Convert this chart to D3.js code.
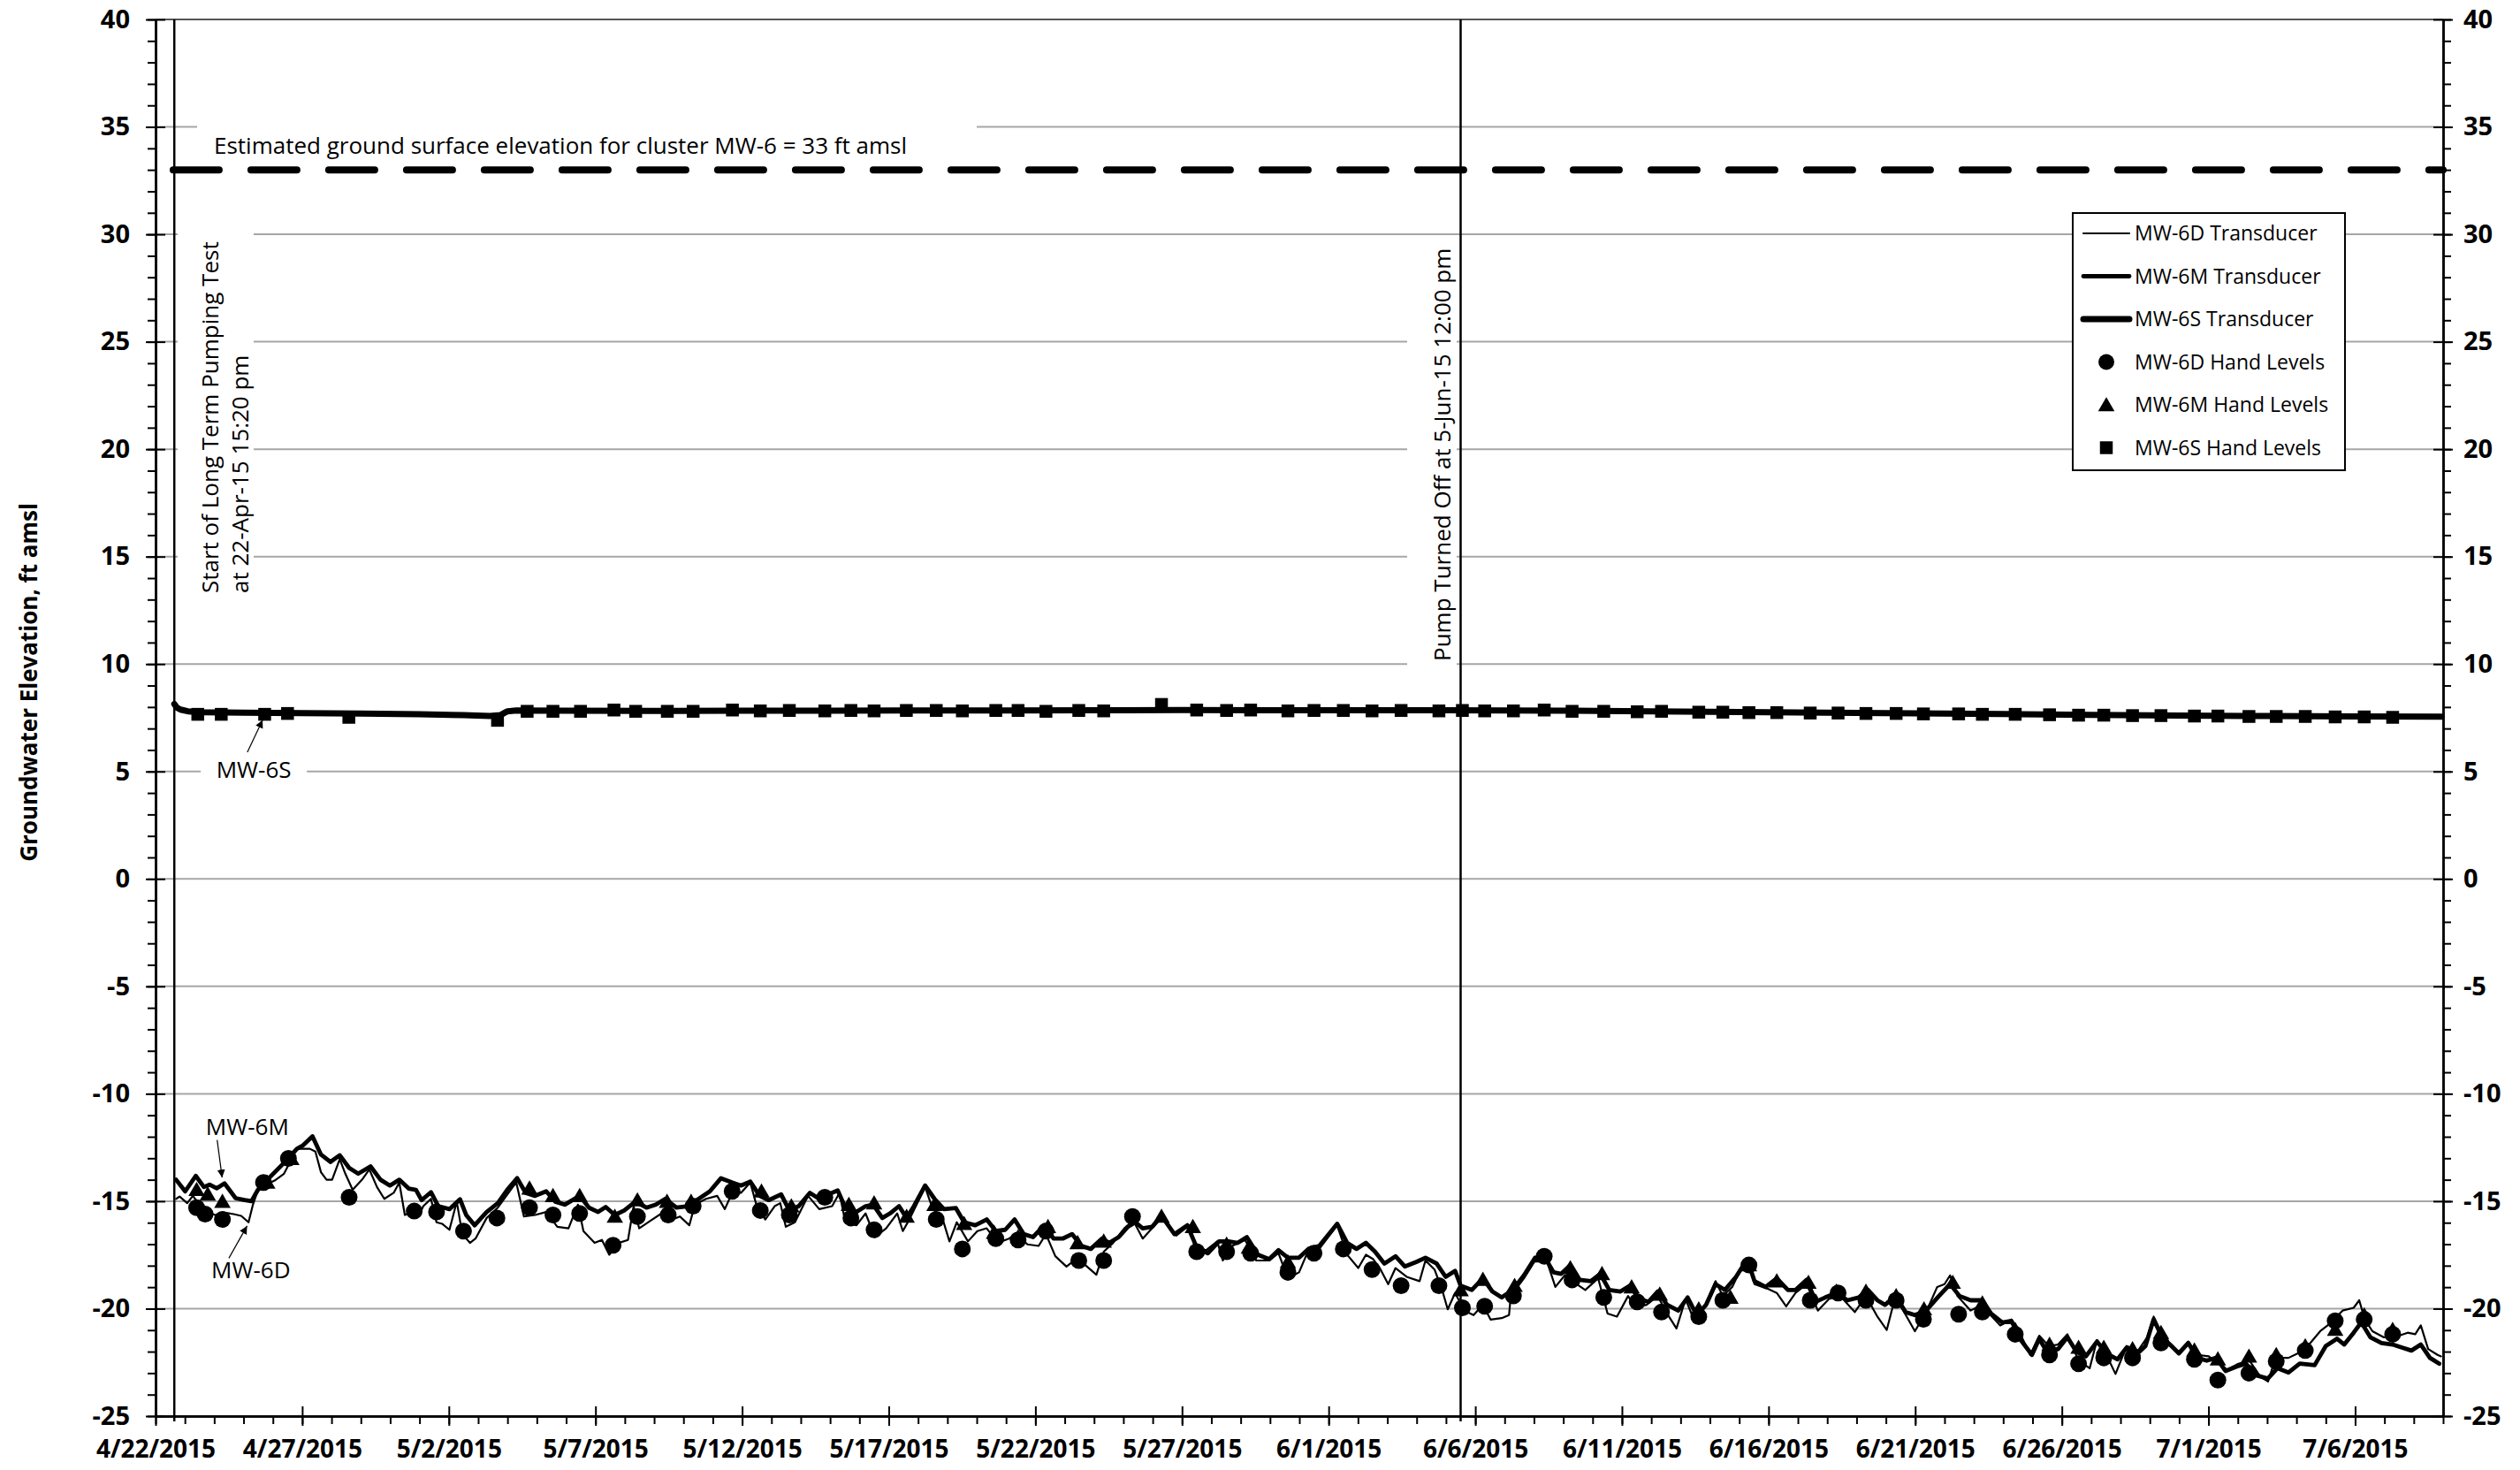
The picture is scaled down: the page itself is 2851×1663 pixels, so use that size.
<!DOCTYPE html>
<html>
<head>
<meta charset="utf-8">
<script src="https://cdnjs.cloudflare.com/ajax/libs/d3/7.8.5/d3.min.js"></script>
<style>
body{margin:0;background:#fff;}
svg{display:block;}
text{font-family:"Open Sans",sans-serif;}
</style>
</head>
<body>
<svg id="Viz"></svg>
<script>
// tick labels
let dateTicks = ["4/22/2015","4/27/2015","5/2/2015","5/7/2015","5/12/2015","5/17/2015","5/22/2015","5/27/2015","6/1/2015","6/6/2015","6/11/2015","6/16/2015","6/21/2015","6/26/2015","7/1/2015","7/6/2015"];
let elevTicks = [-25,-20,-15,-10,-5,0,5,10,15,20,25,30,35,40];

// series, [days after 4/22/2015 00:00, ft amsl]
let mw6dTrans = [[0.70,-14.89],[0.82,-14.78],[1.08,-15.09],[1.27,-14.75],[1.65,-15.43],[2.03,-15.64],[2.41,-15.54],[2.66,-15.6],[2.92,-15.68],[3.17,-15.98],[3.32,-15.16],[3.49,-14.47],[3.81,-14.2],[4.06,-14.04],[4.38,-13.72],[4.82,-12.56],[5.26,-12.56],[5.45,-12.69],[5.64,-13.65],[5.83,-14.0],[6.02,-14.0],[6.28,-13.04],[6.47,-13.72],[6.72,-14.47],[7.04,-14.0],[7.29,-13.52],[7.55,-14.34],[7.8,-14.89],[8.12,-14.61],[8.31,-14.13],[8.5,-15.64],[8.75,-15.5],[9.01,-15.57],[9.13,-15.23],[9.39,-14.89],[9.58,-15.98],[9.77,-16.05],[10.02,-16.33],[10.27,-15.02],[10.46,-16.53],[10.72,-16.94],[10.91,-16.74],[11.29,-15.78],[11.67,-15.3],[12.18,-14.34],[12.3,-14.13],[12.56,-15.71],[12.94,-15.64],[13.32,-15.5],[13.7,-16.19],[14.08,-16.26],[14.4,-15.16],[14.59,-16.39],[14.97,-16.94],[15.22,-16.8],[15.47,-17.49],[15.79,-16.94],[16.11,-16.8],[16.3,-15.23],[16.49,-16.26],[16.87,-15.91],[17.25,-15.57],[17.5,-15.91],[17.88,-15.71],[18.2,-16.12],[18.39,-15.16],[18.77,-14.89],[19.15,-14.75],[19.41,-15.37],[19.66,-14.61],
[19.96,-14.61],[20.28,-14.13],[20.47,-15.09],[20.79,-15.85],[21.11,-15.23],[21.3,-15.09],[21.49,-16.19],[21.8,-15.98],[22.25,-14.75],[22.63,-15.37],[23.07,-15.23],[23.32,-14.61],[23.52,-15.98],[23.9,-16.12],[24.21,-15.57],[24.53,-16.67],[24.91,-16.26],[25.29,-15.57],[25.48,-16.39],[25.73,-15.78],[26.24,-14.34],[26.5,-15.37],[26.81,-15.71],[27.07,-16.87],[27.32,-15.98],[27.7,-16.87],[28.02,-16.39],[28.34,-16.26],[28.72,-16.94],[29.1,-16.74],[29.35,-16.53],[29.73,-17.01],[30.11,-17.08],[30.36,-16.53],[30.68,-17.56],[31.06,-18.04],[31.44,-17.63],[31.7,-17.97],[32.08,-18.42],[32.33,-17.35],[32.65,-16.94],[33.03,-16.26],[33.34,-15.91],[33.66,-16.74],[33.98,-16.26],[34.3,-15.78],[34.8,-16.6],[35.25,-16.12],[35.44,-17.15],[35.82,-17.28],[36.2,-16.87],[36.39,-17.76],[36.71,-17.08],[37.15,-16.8],[37.53,-17.76],[37.97,-17.76],[38.29,-17.42],[38.61,-18.59],[38.99,-18.31],[39.31,-17.28],
[39.68,-17.22],[40.29,-16.12],[40.63,-17.49],[41.01,-18.11],[41.27,-17.49],[41.52,-17.7],[41.77,-18.18],[42.03,-18.86],[42.28,-18.11],[42.66,-18.52],[43.1,-18.72],[43.3,-17.76],[43.61,-18.18],[43.87,-19.13],[44.06,-20.03],[44.31,-19.27],[44.63,-20.09],[44.94,-20.3],[45.26,-19.82],[45.52,-20.51],[45.9,-20.44],[46.15,-20.3],[46.21,-19.41],[46.66,-18.59],[47.04,-17.76],[47.42,-17.7],[47.73,-18.99],[48.05,-18.45],[48.31,-18.72],[48.75,-19.13],[49.19,-18.59],[49.51,-20.23],[49.83,-20.37],[50.21,-19.41],[50.46,-19.96],[50.84,-19.82],[51.22,-19.41],[51.54,-20.23],[51.86,-20.92],[52.17,-19.55],[52.49,-20.64],[52.81,-19.96],[53.19,-18.72],[53.44,-19.41],[53.76,-18.99],[54.14,-17.9],[54.33,-17.9],[54.52,-18.86],[54.96,-19.07],[55.28,-19.27],[55.6,-19.89],[55.92,-19.27],[56.3,-18.86],[56.68,-20.09],[57.06,-19.55],[57.44,-19.41],[57.94,-20.16],[58.32,-19.41],[58.71,-20.37],
[59.03,-20.99],[59.29,-19.61],[59.54,-19.96],[59.99,-21.05],[60.37,-20.16],[60.75,-18.99],[61.0,-18.86],[61.19,-18.45],[61.44,-19.41],[61.89,-20.09],[62.27,-19.82],[62.52,-20.23],[62.9,-20.78],[63.28,-20.5],[63.54,-21.05],[63.92,-22.15],[64.23,-21.26],[64.55,-21.74],[64.87,-21.67],[65.19,-21.19],[65.57,-22.42],[65.95,-22.77],[66.2,-21.46],[66.52,-22.15],[66.83,-23.04],[67.21,-21.74],[67.6,-21.95],[67.91,-21.33],[68.13,-20.37],[68.36,-21.05],[68.61,-21.67],[68.99,-22.01],[69.31,-21.53],[69.62,-22.15],[70.01,-22.22],[70.26,-22.49],[70.64,-22.84],[71.02,-22.56],[71.4,-22.42],[71.78,-23.18],[72.03,-23.39],[72.29,-22.29],[72.73,-22.29],[73.05,-22.08],[73.43,-21.67],[73.81,-21.05],[74.19,-20.64],[74.57,-20.09],[74.95,-19.96],[75.14,-19.61],[75.33,-20.5],[75.59,-21.05],[75.97,-21.33],[76.35,-21.33],[76.79,-21.12],[77.05,-21.19],[77.24,-20.78],[77.49,-21.88],[77.81,-22.15],[77.93,-22.22]];

let mw6mTrans = [[0.70,-14.0],[1.01,-14.54],[1.37,-13.82],[1.65,-14.34],[1.84,-14.23],[2.09,-14.4],[2.35,-14.17],[2.73,-14.86],[3.04,-14.95],[3.27,-15.0],[3.49,-14.47],[3.81,-14.0],[4.31,-13.31],[4.82,-12.56],[5.01,-12.42],[5.35,-11.98],[5.64,-12.83],[5.96,-13.17],[6.28,-12.86],[6.60,-13.45],[6.91,-13.72],[7.33,-13.38],[7.67,-14.0],[7.99,-14.27],[8.31,-14.0],[8.63,-14.41],[8.88,-14.47],[9.07,-14.95],[9.39,-14.58],[9.64,-15.23],[10.02,-15.37],[10.38,-14.91],[10.59,-15.64],[10.88,-16.12],[11.29,-15.5],[11.67,-15.09],[11.99,-14.47],[12.33,-13.93],[12.62,-14.61],[12.94,-14.75],[13.32,-14.54],[13.63,-15.02],[13.95,-15.16],[14.46,-14.75],[14.78,-15.3],[15.09,-15.5],[15.35,-15.27],[15.66,-15.64],[15.98,-15.43],[16.36,-15.02],[16.74,-15.3],[17.06,-15.16],[17.38,-14.89],[17.76,-15.3],[18.14,-15.23],[18.52,-14.89],[18.9,-14.54],[19.28,-13.93],[19.66,-14.13],
[19.96,-14.27],[20.28,-14.09],[20.6,-14.75],[20.91,-14.95],[21.33,-14.68],[21.61,-15.43],[21.93,-15.23],[22.31,-14.61],[22.63,-14.89],[22.94,-14.68],[23.26,-14.5],[23.52,-15.3],[23.9,-15.5],[24.21,-15.23],[24.47,-15.16],[24.78,-15.78],[25.04,-15.57],[25.35,-15.23],[25.61,-15.78],[25.86,-15.23],[26.24,-14.27],[26.56,-14.89],[26.88,-15.37],[27.29,-15.32],[27.57,-15.98],[27.95,-16.12],[28.34,-15.85],[28.65,-16.39],[28.97,-16.33],[29.29,-15.85],[29.6,-16.53],[29.92,-16.67],[30.3,-16.12],[30.62,-16.74],[30.93,-16.74],[31.25,-16.53],[31.57,-17.08],[31.89,-17.22],[32.27,-16.74],[32.52,-16.94],[32.84,-16.67],[33.15,-16.19],[33.41,-15.98],[33.66,-16.26],[33.98,-16.19],[34.3,-15.68],[34.74,-16.53],[35.18,-16.12],[35.5,-17.15],[35.88,-17.42],[36.26,-16.87],[36.58,-16.87],[36.9,-16.94],[37.21,-16.67],[37.59,-17.49],[37.97,-17.7],[38.29,-17.28],[38.61,-17.63],[38.99,-17.63],[39.31,-17.22],
[39.68,-17.08],[40.29,-16.05],[40.63,-16.94],[40.95,-17.22],[41.27,-16.94],[41.58,-17.35],[41.9,-17.9],[42.28,-17.56],[42.6,-18.04],[42.98,-17.83],[43.3,-17.63],[43.68,-17.9],[43.99,-18.52],[44.31,-18.24],[44.5,-18.93],[44.88,-19.13],[45.26,-18.59],[45.58,-19.2],[45.9,-19.48],[46.28,-19.13],[46.66,-18.45],[47.04,-17.63],[47.35,-17.56],[47.67,-18.31],[47.93,-18.38],[48.24,-17.97],[48.56,-18.66],[48.94,-18.72],[49.26,-18.38],[49.57,-19.13],[49.95,-19.2],[50.27,-18.93],[50.59,-19.55],[50.91,-19.68],[51.22,-19.2],[51.54,-19.82],[51.92,-20.09],[52.24,-19.48],[52.55,-20.3],[52.87,-19.82],[53.19,-18.86],[53.51,-19.13],[53.89,-18.52],[54.27,-17.7],[54.52,-18.72],[54.9,-18.99],[55.28,-18.59],[55.66,-19.13],[55.92,-19.13],[56.3,-18.66],[56.61,-19.68],[56.93,-19.48],[57.31,-19.27],[57.69,-19.61],[58.07,-19.48],[58.39,-19.13],[58.71,-19.61],
[58.97,-19.82],[59.33,-19.41],[59.67,-20.16],[59.99,-20.3],[60.37,-20.09],[60.81,-19.41],[61.19,-18.86],[61.51,-19.41],[61.89,-19.61],[62.27,-19.61],[62.59,-20.23],[62.97,-20.64],[63.28,-20.57],[63.6,-21.46],[63.98,-22.15],[64.23,-21.4],[64.49,-22.01],[64.87,-21.88],[65.19,-21.33],[65.5,-22.01],[65.82,-22.22],[66.2,-21.53],[66.52,-22.08],[66.9,-22.36],[67.21,-21.81],[67.53,-22.15],[67.85,-21.74],[68.13,-20.5],[68.42,-21.33],[68.74,-21.74],[68.99,-22.08],[69.31,-21.6],[69.62,-22.29],[69.94,-22.42],[70.26,-22.29],[70.58,-22.9],[70.96,-22.7],[71.27,-22.56],[71.65,-23.11],[72.03,-23.25],[72.35,-22.77],[72.73,-22.97],[73.11,-22.56],[73.62,-22.63],[74.0,-21.74],[74.38,-21.4],[74.63,-21.67],[74.95,-21.12],[75.21,-20.64],[75.52,-21.33],[75.9,-21.6],[76.28,-21.67],[76.6,-21.81],[76.92,-21.95],[77.24,-21.67],[77.55,-22.29],[77.87,-22.56]];

let mw6sTrans = [[0.64,8.14],[0.72,7.98],[0.85,7.88],[1.1,7.8],[1.6,7.76],[3,7.74],[5,7.72],[7,7.7],[9,7.66],[10.5,7.62],[11.4,7.58],[11.75,7.62],[12.0,7.8],[12.3,7.84],[14,7.83],[17,7.82],[20,7.83],[23,7.83],[26,7.84],[29,7.84],[32,7.85],[35,7.86],[38,7.85],[41,7.85],[44,7.85],[46,7.84],[48,7.83],[51,7.8],[54,7.77],[57,7.74],[60,7.71],[63,7.67],[66,7.63],[69,7.6],[72,7.58],[75,7.56],[77.95,7.55]];

let mw6dHand = [[1.40,-15.3],[1.69,-15.6],[2.28,-15.85],[3.68,-14.13],[4.53,-13.01],[6.60,-14.82],[8.82,-15.46],[9.58,-15.5],[10.5,-16.39],[11.64,-15.78],[12.75,-15.3],[13.55,-15.64],[14.46,-15.57],[15.6,-17.05],[16.43,-15.71],[17.48,-15.64],[18.33,-15.23],[19.66,-14.54],[20.62,-15.43],[21.61,-15.64],[22.82,-14.82],[23.71,-15.78],[24.5,-16.33],[26.62,-15.85],[27.51,-17.22],[28.65,-16.74],[29.41,-16.8],[30.36,-16.39],[31.48,-17.76],[32.33,-17.76],[33.31,-15.71],[35.5,-17.35],[36.52,-17.35],[37.34,-17.42],[38.61,-18.31],[39.5,-17.42],[40.5,-17.22],[41.48,-18.18],[42.47,-18.93],[43.76,-18.93],[44.56,-19.96],[45.32,-19.89],[46.3,-19.41],[47.35,-17.56],[48.3,-18.66],[49.38,-19.48],[50.52,-19.68],[51.35,-20.16],[52.62,-20.37],[53.44,-19.61],[54.33,-17.97],[56.42,-19.61],[57.37,-19.27],[58.32,-19.61],[59.35,-19.61],[60.28,-20.5],[61.48,-20.26],[62.29,-20.16],[63.41,-21.19],[64.58,-22.15],[65.57,-22.56],[66.43,-22.29],[67.41,-22.29],[68.38,-21.6],[69.52,-22.36],[70.32,-23.32],[71.38,-23.0],[72.31,-22.45],[73.3,-21.95],[74.32,-20.57],[75.31,-20.5],[76.28,-21.19]];

let mw6mHand = [[1.40,-14.54],[1.78,-14.75],[2.28,-15.09],[3.81,-14.2],[4.63,-13.1],[12.75,-14.47],[13.55,-14.82],[14.46,-14.82],[15.66,-15.78],[16.43,-15.02],[17.44,-15.09],[18.26,-15.09],[20.66,-14.61],[21.68,-15.3],[23.64,-15.23],[24.5,-15.16],[25.61,-15.78],[26.56,-15.23],[27.57,-16.12],[28.59,-16.53],[29.41,-16.74],[30.43,-16.26],[31.44,-17.01],[32.33,-16.94],[34.3,-15.78],[35.37,-16.26],[36.52,-17.08],[37.28,-17.22],[38.61,-17.9],[44.5,-19.2],[45.26,-18.72],[46.34,-19.0],[47.29,-17.63],[48.24,-18.18],[49.32,-18.45],[50.33,-19.07],[51.29,-19.41],[52.62,-20.09],[53.7,-19.55],[54.33,-18.04],[55.28,-18.79],[56.36,-18.86],[57.31,-19.27],[58.32,-19.27],[59.35,-19.48],[60.3,-20.09],[61.28,-18.86],[62.29,-19.82],[63.41,-21.05],[64.58,-21.74],[65.57,-21.88],[66.43,-21.88],[67.41,-21.95],[68.38,-21.19],[69.52,-22.01],[70.32,-22.42],[71.38,-22.29],[72.31,-22.22],[73.3,-21.81],[74.32,-21.05],[75.31,-20.37],[76.28,-21.05]];

let mw6sHand = [[1.44,7.66],[2.24,7.66],[3.72,7.66],[4.5,7.7],[6.59,7.52],[11.66,7.38],[12.67,7.8],[13.55,7.8],[14.49,7.8],[15.63,7.86],[16.37,7.8],[17.45,7.8],[18.33,7.8],[19.67,7.86],[20.62,7.82],[21.61,7.84],[22.82,7.82],[23.71,7.84],[24.5,7.82],[25.6,7.84],[26.62,7.84],[27.51,7.82],[28.65,7.84],[29.41,7.84],[30.36,7.8],[31.48,7.84],[32.33,7.82],[34.3,8.12],[35.5,7.86],[36.52,7.84],[37.34,7.86],[38.61,7.82],[39.5,7.84],[40.5,7.84],[41.48,7.82],[42.47,7.84],[43.76,7.82],[44.56,7.84],[45.32,7.82],[46.3,7.82],[47.35,7.86],[48.3,7.8],[49.38,7.8],[50.52,7.78],[51.35,7.8],[52.62,7.76],[53.44,7.76],[54.33,7.74],[55.28,7.74],[56.42,7.72],[57.37,7.72],[58.32,7.7],[59.35,7.7],[60.28,7.68],[61.48,7.68],[62.29,7.66],[63.41,7.66],[64.58,7.64],[65.57,7.62],[66.43,7.62],[67.41,7.6],[68.38,7.6],[69.52,7.58],[70.32,7.58],[71.38,7.56],[72.31,7.56],[73.3,7.56],[74.32,7.54],[75.31,7.54],[76.28,7.52]];

let groundSurface = [[0.6,33],[78,33]];
let eventDays = [0.639, 44.5];   // 22-Apr-15 15:20, 5-Jun-15 12:00
let legendNames = ["MW-6D Transducer","MW-6M Transducer","MW-6S Transducer","MW-6D Hand Levels","MW-6M Hand Levels","MW-6S Hand Levels"];

let Width = 2851;
let Height = 1663;
let margin = {top:22, right:87, bottom:61, left:176};
let t0 = new Date(2015, 3, 22);
function dayToDate(d){ return new Date(t0.getTime() + d*86400000); }
let parseTick = d3.timeParse("%m/%d/%Y");

let xScale = d3.scaleTime().domain([t0, dayToDate(78)]).range([margin.left, Width-margin.right]);
let yScale = d3.scaleLinear().domain([-25, 40]).range([Height-margin.bottom, margin.top]);
let x0 = xScale.range()[0], x1 = xScale.range()[1];

let vizArea = d3.select('#Viz')
.attr("width", Width)
.attr("height", Height);

vizArea.append("rect").attr("width", Width).attr("height", Height).attr("fill", "#fff");

let defs = vizArea.append("defs");
defs.append("marker")
.attr("id", "arrow")
.attr("viewBox", "0 0 10 10")
.attr("refX", 10).attr("refY", 5)
.attr("markerWidth", 9).attr("markerHeight", 10)
.attr("markerUnits", "userSpaceOnUse")
.attr("orient", "auto")
.append("path").attr("d", "M0,0 L10,5 L0,10 z").attr("fill", "#000");

// gridlines
vizArea.append("g")
.selectAll("line")
.data(elevTicks.filter(function(d){return d > -25;}))
.enter()
.append("line")
.attr("x1", x0).attr("x2", x1)
.attr("y1", function(d){return yScale(d);})
.attr("y2", function(d){return yScale(d);})
.attr("stroke", function(d){return d == 40 ? "#555" : "#a6a6a6";})
.attr("stroke-width", 2);

// text boxes (white backgrounds break the gridlines)
let notes = vizArea.append("g");
notes.append("rect").attr("x", 223).attr("y", 132).attr("width", 882).attr("height", 56).attr("fill", "#fff");
notes.append("text")
.attr("x", 242).attr("y", 174)
.attr("font-size", 26)
.text("Estimated ground surface elevation for cluster MW-6 = 33 ft amsl");

notes.append("rect").attr("x", 201).attr("y", 252).attr("width", 86).attr("height", 440).attr("fill", "#fff");
notes.append("text")
.attr("transform", "translate(247,671) rotate(-90)")
.attr("font-size", 26)
.text("Start of Long Term Pumping Test");
notes.append("text")
.attr("transform", "translate(281,671) rotate(-90)")
.attr("font-size", 26)
.text("at 22-Apr-15 15:20 pm");

notes.append("rect").attr("x", 1592).attr("y", 272).attr("width", 56).attr("height", 494).attr("fill", "#fff");
notes.append("text")
.attr("transform", "translate(1641,748) rotate(-90)")
.attr("font-size", 26)
.text("Pump Turned Off at 5-Jun-15 12:00 pm");

// ground surface dashed line
let drawLine = d3.line()
.x(function(d){return xScale(dayToDate(d[0]));})
.y(function(d){return yScale(d[1]);});

vizArea.append("path")
.datum(groundSurface)
.attr("d", drawLine)
.attr("fill", "none")
.attr("stroke", "#000")
.attr("stroke-width", 8)
.attr("stroke-linecap", "round")
.attr("stroke-dasharray", "52,36");

// event lines
vizArea.append("g")
.selectAll("line")
.data(eventDays)
.enter()
.append("line")
.attr("x1", function(d){return xScale(dayToDate(d));})
.attr("x2", function(d){return xScale(dayToDate(d));})
.attr("y1", yScale(40))
.attr("y2", yScale(-25) + 6)
.attr("stroke", "#000")
.attr("stroke-width", 2.5);

// transducer lines
let series = [
  {data: mw6dTrans, w: 2.2},
  {data: mw6mTrans, w: 4.8},
  {data: mw6sTrans, w: 7}
];
vizArea.append("g")
.selectAll("path")
.data(series)
.enter()
.append("path")
.attr("d", function(d){return drawLine(d.data);})
.attr("fill", "none")
.attr("stroke", "#000")
.attr("stroke-width", function(d){return d.w;})
.attr("stroke-linejoin", "round")
.attr("stroke-linecap", "round");

// hand levels
let tri = d3.symbol().type(d3.symbolTriangle).size(150);
let sq = d3.symbol().type(d3.symbolSquare).size(210);

vizArea.append("g")
.selectAll("circle")
.data(mw6dHand)
.enter()
.append("circle")
.attr("cx", function(d){return xScale(dayToDate(d[0]));})
.attr("cy", function(d){return yScale(d[1]);})
.attr("r", 9.5)
.attr("fill", "#000");

vizArea.append("g")
.selectAll("path")
.data(mw6mHand)
.enter()
.append("path")
.attr("d", tri)
.attr("transform", function(d){return "translate(" + xScale(dayToDate(d[0])) + "," + yScale(d[1]) + ")";})
.attr("fill", "#000");

vizArea.append("g")
.selectAll("path")
.data(mw6sHand)
.enter()
.append("path")
.attr("d", sq)
.attr("transform", function(d){return "translate(" + xScale(dayToDate(d[0])) + "," + yScale(d[1]) + ")";})
.attr("fill", "#000");

// well labels with arrows
let wellLabels = [
  {text: "MW-6M", at: [3.13, -11.9], from: [2.1, -12.15], to: [2.27, -13.9]},
  {text: "MW-6D", at: [3.25, -18.6], from: [2.5, -17.65], to: [3.12, -16.15]},
  {text: "MW-6S", at: [3.35, 4.7], from: [3.13, 5.9], to: [3.65, 7.4]}
];
let wl = vizArea.append("g");
wl.selectAll("rect")
.data(wellLabels)
.enter()
.append("rect")
.attr("x", function(d){return xScale(dayToDate(d.at[0])) - 60;})
.attr("y", function(d){return yScale(d.at[1]) - 28;})
.attr("width", 120).attr("height", 38)
.attr("fill", function(d){return d.text == "MW-6S" ? "#fff" : "none";});
wl.selectAll("text")
.data(wellLabels)
.enter()
.append("text")
.attr("x", function(d){return xScale(dayToDate(d.at[0]));})
.attr("y", function(d){return yScale(d.at[1]);})
.attr("text-anchor", "middle")
.attr("font-size", 26)
.text(function(d){return d.text;});
wl.selectAll("line")
.data(wellLabels)
.enter()
.append("line")
.attr("x1", function(d){return xScale(dayToDate(d.from[0]));})
.attr("y1", function(d){return yScale(d.from[1]);})
.attr("x2", function(d){return xScale(dayToDate(d.to[0]));})
.attr("y2", function(d){return yScale(d.to[1]);})
.attr("stroke", "#000")
.attr("stroke-width", 1.2)
.attr("marker-end", "url(#arrow)");

// axes
function styleAxis(g, size){
  g.select(".domain").attr("stroke", "#000").attr("stroke-width", 2.5);
  g.selectAll(".tick line").attr("stroke", "#000").attr("stroke-width", 2);
  g.selectAll("text")
  .attr("font-family", "'Open Sans', sans-serif")
  .attr("font-weight", "bold")
  .attr("font-size", size)
  .attr("fill", "#000");
}

let majorDates = dateTicks.map(parseTick);
let minorDates = d3.timeDay.range(t0, dayToDate(78.01));
let bottomY = yScale(-25);
let plainNum = function(d){ return String(d); };

vizArea.append("g")
.attr("transform", "translate(0," + bottomY + ")")
.call(d3.axisBottom(xScale).tickValues(minorDates).tickFormat("").tickSize(9).tickSizeOuter(0))
.call(function(g){ styleAxis(g, 28); });

let xAxisG = vizArea.append("g")
.attr("transform", "translate(0," + bottomY + ")")
.call(d3.axisBottom(xScale).tickValues(majorDates).tickFormat(function(d, i){return dateTicks[i];}).tickSize(11).tickSizeOuter(0).tickPadding(16))
.call(function(g){ styleAxis(g, 28); });
xAxisG.selectAll(".tick line").attr("y1", -11);

let minorElev = d3.range(-25, 41, 1);

vizArea.append("g")
.attr("transform", "translate(" + x0 + ",0)")
.call(d3.axisLeft(yScale).tickValues(minorElev).tickFormat("").tickSize(9).tickSizeOuter(0))
.call(function(g){ styleAxis(g, 29); });
let yLeft = vizArea.append("g")
.attr("transform", "translate(" + x0 + ",0)")
.call(d3.axisLeft(yScale).tickValues(elevTicks).tickFormat(plainNum).tickSize(11).tickSizeOuter(0).tickPadding(18))
.call(function(g){ styleAxis(g, 29); });
yLeft.selectAll(".tick line").attr("x1", 11);

vizArea.append("g")
.attr("transform", "translate(" + x1 + ",0)")
.call(d3.axisRight(yScale).tickValues(minorElev).tickFormat("").tickSize(9).tickSizeOuter(0))
.call(function(g){ styleAxis(g, 29); });
let yRight = vizArea.append("g")
.attr("transform", "translate(" + x1 + ",0)")
.call(d3.axisRight(yScale).tickValues(elevTicks).tickFormat(plainNum).tickSize(11).tickSizeOuter(0).tickPadding(12))
.call(function(g){ styleAxis(g, 29); });
yRight.selectAll(".tick line").attr("x1", -11);

vizArea.append("text")
.attr("transform", "translate(42," + ((yScale(40) + yScale(-25)) / 2 - 40) + ") rotate(-90)")
.attr("text-anchor", "middle")
.attr("font-weight", "bold")
.attr("font-size", 26)
.text("Groundwater Elevation, ft amsl");

// legend
let lg = vizArea.append("g").attr("transform", "translate(2345,241)");
lg.append("rect")
.attr("width", 308).attr("height", 291)
.attr("fill", "#fff")
.attr("stroke", "#000")
.attr("stroke-width", 2);
let rowY = function(i){ return 23 + i*48.5; };
let items = lg.selectAll("g.item")
.data(legendNames)
.enter()
.append("g")
.attr("class", "item")
.attr("transform", function(d, i){return "translate(0," + rowY(i) + ")";});
items.append("text")
.attr("x", 70).attr("y", 8)
.attr("font-size", 23)
.text(function(d){return d;});
items.filter(function(d, i){return i < 3;})
.append("line")
.attr("x1", 12).attr("x2", 64)
.attr("stroke", "#000")
.attr("stroke-linecap", "round")
.attr("stroke-width", function(d, i){return [2.2, 4.8, 7][i];});
items.filter(function(d, i){return i == 3;})
.append("circle").attr("cx", 38).attr("r", 9).attr("fill", "#000");
items.filter(function(d, i){return i == 4;})
.append("path").attr("d", tri).attr("transform", "translate(38,2)").attr("fill", "#000");
items.filter(function(d, i){return i == 5;})
.append("path").attr("d", sq).attr("transform", "translate(38,0)").attr("fill", "#000");
</script>
</body>
</html>
